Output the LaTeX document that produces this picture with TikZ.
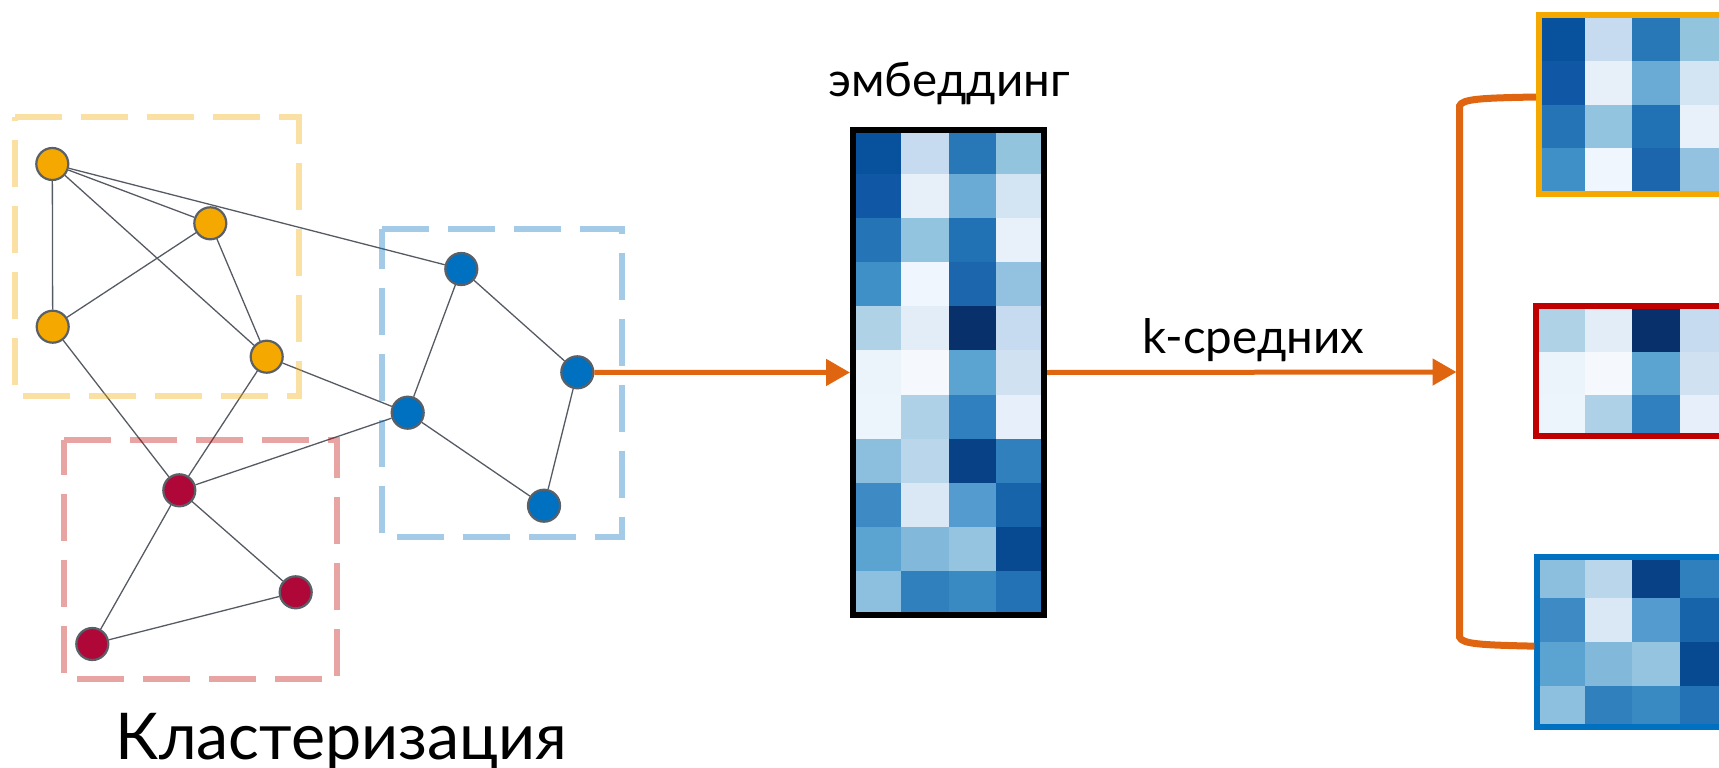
\documentclass[tikz,border=0pt]{standalone}
\usepackage{fontspec}
\setmainfont{Lato}
\usetikzlibrary{arrows.meta,calc}

\definecolor{orangenode}{HTML}{F5A800}
\definecolor{bluenode}{HTML}{0070C0}
\definecolor{rednode}{HTML}{AF0838}
\definecolor{nodeline}{HTML}{596068}
\definecolor{edgegray}{HTML}{565B63}
\definecolor{flow}{HTML}{E06510}
\definecolor{frameA}{HTML}{F5A800}
\definecolor{frameB}{HTML}{C00000}
\definecolor{frameC}{HTML}{0070C0}

% embedding values, grouped by cluster (Blues colour map)
\def\rowsA{{08519C,C6DBEF,2878B8,93C4DE},{1058A5,E7F0F9,69ABD5,D3E4F3},{2474B6,93C4DF,2171B5,E8F1FA},{4090C8,EFF6FD,1C66AD,92C2DF}}
\def\rowsB{{B0D2E7,E2EDF8,08306B,C6DBEF},{EBF3FB,F5F9FE,5BA3D0,D0E1F2},{ECF4FC,AED1E7,3080C0,E7F0FA}}
\def\rowsC{{8BBFDD,BAD6EB,084186,3080BD},{3D8AC4,DAE8F5,549CCF,1764AB},{5BA3D0,82B9DA,94C4DF,084A92},{8DC0DE,3080BD,3989C2,2372B6}}

% #1,#2: top-left corner, #3,#4: cell size, #5: list of rows
\newcommand\heatcells[5]{%
  \foreach \cellrow [count=\r from 0] in #5 {
    \foreach \cellhex [count=\k from 0] in \cellrow {
      \definecolor{cellfill}{HTML}{\cellhex}
      \fill[cellfill] ({#1+\k*#3},{#2+\r*#4}) rectangle ++({#3+0.3},{#4+0.3});
    }
  }%
}

\begin{document}
\begin{tikzpicture}[x=1pt,y=-1pt,
  vertex/.style={circle,draw=nodeline,line width=2.2pt,minimum size=32pt,inner sep=0pt},
  link/.style={draw=edgegray,line width=1.3pt},
  clusterbox/.style={line width=6pt,draw opacity=0.36,dash pattern=on 47pt off 19pt},
  flowarrow/.style={draw=flow,line width=5pt,-{Triangle[length=24pt,width=26pt]}},
  matframe/.style={draw,line width=6pt,inner sep=0pt,fill=none},
  textlabel/.style={font=\fontsize{47.5pt}{52pt}\selectfont,anchor=base}
]
\clip (0,0) rectangle (1719,768);

% graph vertices
\node[vertex,fill=orangenode] (o1) at (52.3,164) {};
\node[vertex,fill=orangenode] (o2) at (210.3,223.3) {};
\node[vertex,fill=orangenode] (o3) at (52.7,326.7) {};
\node[vertex,fill=orangenode] (o4) at (266.7,356.7) {};
\node[vertex,fill=bluenode] (b1) at (461.3,269) {};
\node[vertex,fill=bluenode] (b2) at (577.3,372.3) {};
\node[vertex,fill=bluenode] (b3) at (407.7,412.7) {};
\node[vertex,fill=bluenode] (b4) at (544,505.7) {};
\node[vertex,fill=rednode] (r1) at (179.3,490.3) {};
\node[vertex,fill=rednode] (r2) at (295.7,592.3) {};
\node[vertex,fill=rednode] (r3) at (92.3,644) {};

% graph edges
\foreach \a/\b in {o1/o3,o1/o2,o1/o4,o1/b1,o2/o3,o2/o4,o3/r1,o4/r1,o4/b3,
                   b1/b3,b1/b2,b2/b4,b3/b4,b3/r1,r1/r3,r1/r2,r2/r3}
  \draw[link] (\a) -- (\b);

% cluster outlines
\draw[clusterbox,frameA] (15,117) -- (299,117) -- (299,396) -- (15,396) -- cycle;
\draw[clusterbox,frameC] (381.7,229.3) -- (622.3,229.3) -- (622.3,536.7) -- (381.7,536.7) -- cycle;
\draw[clusterbox,frameB] (64,440) -- (337.3,440) -- (337.3,679) -- (64,679) -- cycle;

% embedding matrix
\heatcells{853}{130}{47.75}{44.09}{\rowsA}
\heatcells{853}{306.36}{47.75}{44.09}{\rowsB}
\heatcells{853}{438.63}{47.75}{44.09}{\rowsC}
\node[matframe,draw=black,minimum width=191pt,minimum height=485pt] (emb) at (948.5,372.5) {};
\node[textlabel] (embtitle) at (949,96.7) {эмбеддинг};

% clustered embeddings
\heatcells{1537}{17.5}{47.7}{43.6}{\rowsA}
\node[matframe,draw=frameA,minimum width=241pt,minimum height=179pt] (mA) at (1659.5,104.5) {};
\heatcells{1537}{308.7}{47.7}{43.3}{\rowsB}
\node[matframe,draw=frameB,minimum width=244.3pt,minimum height=130.3pt] (mB) at (1657.85,370.85) {};
\heatcells{1537}{554.5}{47.7}{43.7}{\rowsC}
\node[matframe,draw=frameC,minimum width=242.7pt,minimum height=169.7pt] (mC) at (1658.65,642.15) {};

% flow arrows and split bracket
\coordinate (brk) at (1456.5,372);
\draw[flowarrow] (b2) -- (emb.west);
\draw[flowarrow] (emb.east) -- (brk);
\node[textlabel] (kmeans) at (1253.4,353.3) {k-средних};
\draw[flow,line width=7pt] ($(mA.west)+(0,-7.5)$) .. controls (1480,98) and (1462,99) .. (1459.5,106)
  -- (1459.5,637) .. controls (1462,644) and (1480,645) .. ($(mC.west)+(0,4)$);

% caption
\node[font=\fontsize{64.5pt}{70pt}\selectfont,anchor=base] (title) at (341.5,759) {Кластеризация};
\end{tikzpicture}
\end{document}
